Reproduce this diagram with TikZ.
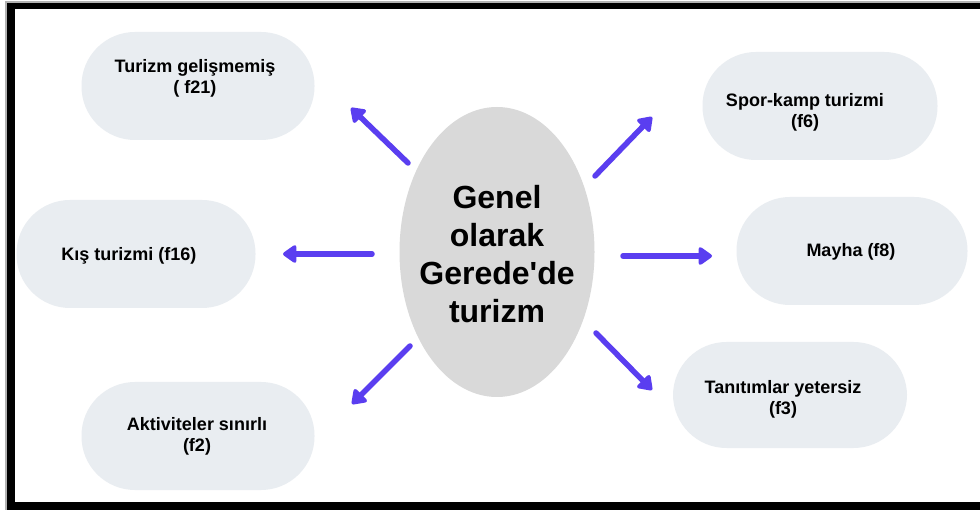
\documentclass[tikz,border=0pt]{standalone}
\usepackage{fontspec}
\setmainfont{Liberation Sans}
\usetikzlibrary{shapes.geometric,arrows.meta}
\definecolor{pillgray}{HTML}{E9EDF1}
\definecolor{ellgray}{HTML}{D9D9D9}
\definecolor{arrblue}{RGB}{90,62,240}
\begin{document}
\begin{tikzpicture}[x=1pt,y=-1pt,
  pill/.style={draw=none, fill=pillgray, rounded corners=53.5pt, minimum width=233pt, minimum height=108pt, inner sep=0pt},
  lbl/.style={font=\bfseries\fontsize{18}{21}\selectfont, align=center, text=black, inner sep=0pt},
  arr/.style={draw=arrblue, line width=5.5pt, line cap=round, -{Triangle[width=20pt,length=15pt,round]}}]
\useasboundingbox (0,0) rectangle (980,510);
\fill[white] (0,0) rectangle (980,510);
% frame
\draw[gray!60, line width=1.2pt] (6,510) -- (6,2) -- (980,2);
\fill[black] (7,3) rectangle (980,9);
\fill[black] (7,3) rectangle (15,510);
\fill[black] (7,502) rectangle (980,510);
% centre
\node[ellipse, fill=ellgray, minimum width=195pt, minimum height=290pt, inner sep=0pt] (c) at (497,252) {};
\node[font=\bfseries\fontsize{32}{38}\selectfont, align=center, inner sep=0pt] (lc) at (497,254)
      {Genel\\olarak\\Gerede\textquotesingle de\\turizm};
% pills
\node[pill] (p1) at (198,86) {};
\node[lbl] (l1) at (195,78) {Turizm gelişmemiş\\( f21)};
\node[pill, minimum width=239pt] (p2) at (136,254) {};
\node[lbl] (l2) at (129,256) {Kış turizmi (f16)};
\node[pill] (p3) at (198,436) {};
\node[lbl] (l3) at (197,436) {Aktiviteler sınırlı\\(f2)};
\node[pill, minimum width=235pt] (p4) at (820,106) {};
\node[lbl] (l4) at (805,112) {Spor-kamp turizmi\\(f6)};
\node[pill, minimum width=231pt] (p5) at (852,251) {};
\node[lbl] (l5) at (851,252) {Mayha (f8)};
\node[pill, minimum width=234pt, minimum height=106pt] (p6) at (790,395) {};
\node[lbl] (l6) at (783,399) {Tanıtımlar yetersiz\\(f3)};
% arrows
\coordinate (a1s) at (408,163); \coordinate (a1e) at (351,108);
\coordinate (a2s) at (372,254); \coordinate (a2e) at (283,254);
\coordinate (a3s) at (410,346); \coordinate (a3e) at (352,404);
\coordinate (a4s) at (595,176); \coordinate (a4e) at (652,117);
\coordinate (a5s) at (623,256); \coordinate (a5e) at (712,256);
\coordinate (a6s) at (596,333); \coordinate (a6e) at (652,390);
\draw[arr] (a1s) -- (a1e);
\draw[arr] (a2s) -- (a2e);
\draw[arr] (a3s) -- (a3e);
\draw[arr] (a4s) -- (a4e);
\draw[arr] (a5s) -- (a5e);
\draw[arr] (a6s) -- (a6e);
\end{tikzpicture}
\end{document}
